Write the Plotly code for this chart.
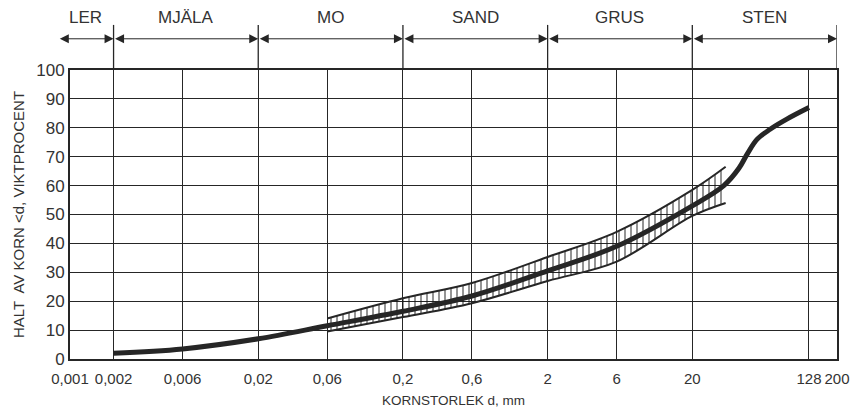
import numpy as np
import plotly.graph_objects as go

# --- data ---------------------------------------------------------------
size_mm = [0.002, 0.006, 0.02, 0.06, 0.2, 0.6, 2, 6, 20, 33, 42, 48, 56, 69, 90, 128]
pass_pct = [2, 3.5, 7, 11.5, 16.5, 21.8, 30.5, 39, 53, 60, 66, 71, 76, 79.5, 83, 87]

band_x = [0.06, 0.2, 0.6, 2, 6, 20, 34]
band_upper = [14, 21, 26.3, 35.3, 44, 58.5, 66.5]
band_lower = [9.5, 14.5, 19.3, 27, 33.7, 49.5, 54]

x_tickvals = [0.001, 0.002, 0.006, 0.02, 0.06, 0.2, 0.6, 2, 6, 20, 128, 200]
x_ticktext = ["0,001", "0,002", "0,006", "0,02", "0,06", "0,2", "0,6", "2", "6", "20", "128", "200"]
y_tickvals = list(range(0, 101, 10))

fraction_names = ["LER", "MJÄLA", "MO", "SAND", "GRUS", "STEN"]
fraction_limits = [0.00083, 0.002, 0.02, 0.2, 2, 20, 200]

INK = "#262626"
FONT = "Liberation Sans, Arial, sans-serif"

fig = go.Figure()

# hatched band
fig.add_trace(go.Scatter(x=band_x, y=band_lower, mode="lines", line=dict(color=INK, width=2, shape="spline"),
                         showlegend=False, hoverinfo="skip"))
fig.add_trace(go.Scatter(x=band_x, y=band_upper, mode="lines", line=dict(color=INK, width=2, shape="spline"),
                         fill="tonexty", fillcolor="rgba(0,0,0,0)",
                         fillpattern=dict(shape="|", size=6, solidity=0.3, fgcolor="#111", bgcolor="rgba(0,0,0,0)"),
                         showlegend=False, hoverinfo="skip"))
# main grading curve
fig.add_trace(go.Scatter(x=size_mm, y=pass_pct, mode="lines", line=dict(color=INK, width=5, shape="spline"),
                         showlegend=False))

# header: fraction boundaries, arrows, names
shapes = []
annotations = []
head_top = 1.156
arrow_y = 1.108
for xb in fraction_limits[1:]:
    shapes.append(dict(type="line", xref="x", yref="paper", x0=xb, x1=xb, y0=1.0, y1=head_top,
                       line=dict(color=INK, width=1.3)))
for i, name in enumerate(fraction_names):
    a, b = fraction_limits[i], fraction_limits[i + 1]
    annotations.append(dict(xref="x", yref="paper", x=np.log10(b), y=arrow_y, axref="x", ayref="pixel",
                            ax=np.log10(a), ay=0, text="", showarrow=True, arrowside="end+start",
                            arrowhead=2, arrowsize=1.8, arrowwidth=1, arrowcolor=INK))
    xm = (np.log10(a) + np.log10(b)) / 2
    annotations.append(dict(xref="x", yref="paper", x=xm, y=1.18, text=name, showarrow=False,
                            font=dict(family=FONT, size=17, color="#333"), yanchor="middle"))

fig.update_layout(
    width=863, height=409,
    margin=dict(l=70, r=26, t=70, b=50),
    paper_bgcolor="white", plot_bgcolor="white",
    shapes=shapes, annotations=annotations,
    font=dict(family=FONT, color="#333"),
    xaxis=dict(type="log", range=[np.log10(0.001), np.log10(200) + 1e-6], automargin=False,
               tickvals=x_tickvals, ticktext=x_ticktext, ticks="", tickangle=0,
               tickfont=dict(size=15, color="#333"), ticklabelstandoff=5,
               showgrid=True, gridcolor=INK, gridwidth=1.3,
               showline=True, linecolor=INK, linewidth=2, mirror=True, zeroline=False,
               title=dict(text="KORNSTORLEK d, mm", font=dict(size=13.5, color="#333"), standoff=10)),
    yaxis=dict(range=[0, 100], tickvals=y_tickvals, ticks="", automargin=False,
               tickfont=dict(size=17, color="#333"),
               showgrid=True, gridcolor=INK, gridwidth=1.3,
               showline=True, linecolor=INK, linewidth=2, mirror=True, zeroline=False,
               title=dict(text="HALT  AV KORN <d, VIKTPROCENT", font=dict(size=15, color="#333"), standoff=8)),
)

fig.write_html("out.html")
